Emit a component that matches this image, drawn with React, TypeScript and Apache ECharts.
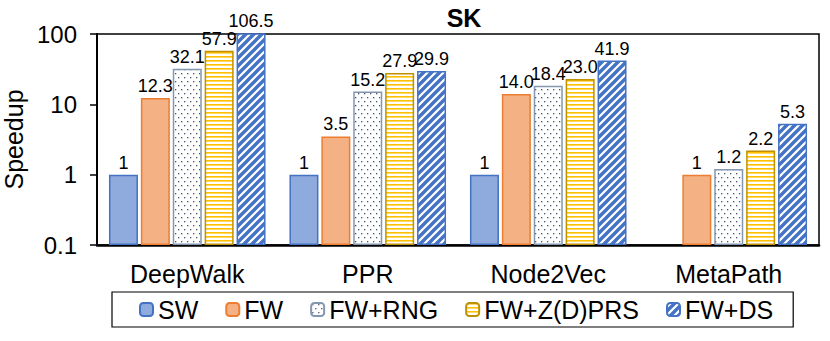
import React, { useEffect, useRef } from "react";
import * as echarts from "echarts";

const categories = ["DeepWalk", "PPR", "Node2Vec", "MetaPath"];
const seriesNames = ["SW", "FW", "FW+RNG", "FW+Z(D)PRS", "FW+DS"];
const swValues = [1, 1, 1, null];
const fwValues = [12.3, 3.5, 14.0, 1];
const rngValues = [32.1, 15.2, 18.4, 1.2];
const zprsValues = [57.9, 27.9, 23.0, 2.2];
const dsValues = [106.5, 29.9, 41.9, 5.3];
const yTickLabels = ["0.1", "1", "10", "100"];

const FONT = "Liberation Sans, Arial, Helvetica, sans-serif";

function makeTile(w: number, h: number, draw: (ctx: CanvasRenderingContext2D) => void) {
  const c = document.createElement("canvas");
  c.width = w;
  c.height = h;
  const ctx = c.getContext("2d")!;
  ctx.fillStyle = "#ffffff";
  ctx.fillRect(0, 0, w, h);
  draw(ctx);
  return { image: c, repeat: "repeat", imageWidth: w, imageHeight: h } as any;
}

export default function App() {
  const ref = useRef<HTMLDivElement>(null);
  useEffect(() => {
    if (!ref.current) return;
    const chart = echarts.init(ref.current, undefined, { renderer: "svg" });

    const dots = makeTile(6, 8, (ctx) => {
      ctx.fillStyle = "#44546A";
      ctx.fillRect(1, 1, 1.3, 1.3);
      ctx.fillRect(4, 5, 1.3, 1.3);
    });
    const hlines = makeTile(4, 4, (ctx) => {
      ctx.fillStyle = "#FFC000";
      ctx.fillRect(0, 0, 4, 1.6);
    });
    const diag = makeTile(8, 8, (ctx) => {
      ctx.strokeStyle = "#4472C4";
      ctx.lineWidth = 3.4;
      ctx.beginPath();
      ctx.moveTo(-2, 10);
      ctx.lineTo(10, -2);
      ctx.moveTo(-6, 6);
      ctx.lineTo(6, -6);
      ctx.moveTo(2, 14);
      ctx.lineTo(14, 2);
      ctx.stroke();
    });

    const valueSets = [swValues, fwValues, rngValues, zprsValues, dsValues];
    const fills: any[] = ["#8FAADC", "#F4B183", dots, hlines, diag];
    const borders = ["#4472C4", "#ED7D31", "#8497B0", "#BF9000", "#4472C4"];

    const fmt = (v: number) => (v === 1 ? "1" : v.toFixed(1));

    const series = valueSets.map((vals, i) => ({
      name: seriesNames[i],
      type: "bar",
      barWidth: 29,
      barGap: "10%",
      clip: true,
      itemStyle: { color: fills[i], borderColor: borders[i], borderWidth: 1.5 },
      label: {
        show: true,
        position: "top",
        distance: 3,
        color: "#000",
        fontSize: 18,
        fontFamily: FONT,
        formatter: (p: any) => fmt(vals[p.dataIndex] as number),
      },
      data: vals.map((v) => (v == null ? null : Math.log10(v) + 1)),
    }));

    chart.setOption({
      animation: false,
      backgroundColor: "#fff",
      title: {
        text: "SK",
        left: 459,
        top: 0,
        textAlign: "center",
        textStyle: { fontFamily: FONT, fontSize: 25, fontWeight: "bold", color: "#000" },
      },
      grid: {
        left: 97,
        right: 11,
        top: 34,
        bottom: 96,
        outerBoundsMode: "none",
        containLabel: false,
        show: true,
        borderColor: "#000",
        borderWidth: 1.5,
        backgroundColor: "transparent",
      },
      legend: {
        data: seriesNames,
        left: 112,
        top: 292,
        orient: "horizontal",
        itemWidth: 13,
        itemHeight: 13,
        itemGap: 27,
        padding: [5, 20, 5, 27],
        borderColor: "#000",
        borderWidth: 1.2,
        textStyle: { fontFamily: FONT, fontSize: 25, color: "#000" },
      },
      xAxis: {
        type: "category",
        data: categories,
        axisLine: { show: true, lineStyle: { color: "#000", width: 2.5 } },
        axisTick: { show: false },
        axisLabel: { color: "#000", fontSize: 25, fontFamily: FONT, margin: 16 },
        splitLine: { show: false },
      },
      yAxis: {
        type: "value",
        min: 0,
        max: 3,
        interval: 1,
        name: "Speedup",
        nameLocation: "middle",
        nameGap: 69,
        nameTextStyle: { fontFamily: FONT, fontSize: 25, color: "#000" },
        axisLine: { show: true, lineStyle: { color: "#000", width: 2 } },
        axisTick: { show: true, length: 7, lineStyle: { color: "#000", width: 1.5 } },
        axisLabel: {
          color: "#000",
          fontSize: 24,
          fontFamily: FONT,
          margin: 20,
          formatter: (v: number) => yTickLabels[Math.round(v)] ?? "",
        },
        splitLine: { show: false },
      },
      series,
    });
    return () => chart.dispose();
  }, []);
  return <div ref={ref} style={{ width: 830, height: 341, position: "absolute", left: 0, top: 0 }} />;
}
